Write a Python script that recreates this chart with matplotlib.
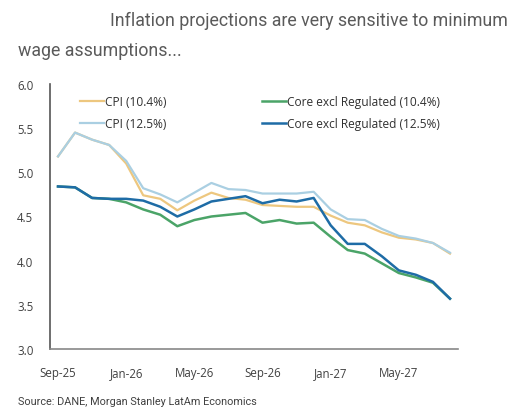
import matplotlib
matplotlib.use("Agg")
import matplotlib.pyplot as plt
import numpy as np

# monthly, Sep-25 .. Aug-27
months = ["Sep-25", "Oct-25", "Nov-25", "Dec-25", "Jan-26", "Feb-26", "Mar-26", "Apr-26",
          "May-26", "Jun-26", "Jul-26", "Aug-26", "Sep-26", "Oct-26", "Nov-26", "Dec-26",
          "Jan-27", "Feb-27", "Mar-27", "Apr-27", "May-27", "Jun-27", "Jul-27", "Aug-27"]
tick_labels = ["Sep-25", "Jan-26", "May-26", "Sep-26", "Jan-27", "May-27"]

cpi_104 = [5.18, 5.45, 5.37, 5.31, 5.10, 4.74, 4.70, 4.57, 4.68, 4.77, 4.71, 4.69,
           4.63, 4.62, 4.61, 4.61, 4.51, 4.43, 4.40, 4.32, 4.26, 4.24, 4.20, 4.08]
cpi_125 = [5.18, 5.45, 5.37, 5.31, 5.13, 4.82, 4.75, 4.66, 4.77, 4.88, 4.81, 4.80,
           4.76, 4.76, 4.76, 4.78, 4.58, 4.47, 4.46, 4.36, 4.28, 4.25, 4.20, 4.09]
core_104 = [4.84, 4.83, 4.71, 4.70, 4.66, 4.58, 4.52, 4.39, 4.46, 4.50, 4.52, 4.54,
            4.43, 4.46, 4.42, 4.43, 4.27, 4.12, 4.08, 3.97, 3.86, 3.81, 3.75, 3.57]
core_125 = [4.84, 4.83, 4.71, 4.70, 4.70, 4.68, 4.61, 4.50, 4.58, 4.67, 4.70, 4.73,
            4.65, 4.69, 4.67, 4.71, 4.40, 4.19, 4.19, 4.05, 3.89, 3.84, 3.76, 3.57]

series = [
    ("CPI (10.4%)", cpi_104, "#EDC77F", 1.6, 1),
    ("CPI (12.5%)", cpi_125, "#AACFE2", 1.6, 2),
    ("Core excl Regulated (10.4%)", core_104, "#4BA468", 1.8, 3),
    ("Core excl Regulated (12.5%)", core_125, "#1E6CA6", 1.8, 4),
]

W, H = 529, 414
fig = plt.figure(figsize=(W / 100, H / 100), dpi=100)
ax = fig.add_axes([50 / W, 1 - 350 / H, 408 / W, 265 / H])

x = np.arange(len(months))
for label, vals, color, lw, z in series:
    ax.plot(x, vals, color=color, lw=lw, label=label, zorder=z, solid_joinstyle="round")

ax.set_ylim(3.0, 6.0)
ax.set_yticks(np.arange(3.0, 6.01, 0.5))
ax.set_yticklabels([f"{v:.1f}" for v in np.arange(3.0, 6.01, 0.5)])
ax.set_xlim(-0.47, len(months) - 0.53)
ax.set_xticks([months.index(m) for m in tick_labels])
ax.set_xticklabels(tick_labels)
ax.tick_params(length=0, labelsize=8.3, labelcolor="#404040", pad=12)
ax.tick_params(axis="y", pad=12)
for lbl in ax.get_xticklabels() + ax.get_yticklabels():
    lbl.set_family("Open Sans")

for s in ["top", "right"]:
    ax.spines[s].set_visible(False)
ax.spines["left"].set_color("#555555")
ax.spines["bottom"].set_color("#888888")
ax.spines["left"].set_linewidth(1.2)
ax.spines["bottom"].set_linewidth(1.2)

leg = ax.legend(ncol=2, loc="upper left", bbox_to_anchor=(0.047, 1.0), frameon=False,
                prop={"family": "Open Sans", "size": 8.6}, handlelength=2.0,
                handletextpad=0.1, columnspacing=8.0, labelspacing=0.8)
for t in leg.get_texts():
    t.set_color("#303030")

fig.text(110 / W, 1 - 21 / H, "Inflation projections are very sensitive to minimum",
         family="Roboto", fontsize=12.8, color="#5a5a5a", va="center")
fig.text(18 / W, 1 - 51 / H, "wage assumptions...",
         family="Roboto", fontsize=12.8, color="#5a5a5a", va="center")
fig.text(18 / W, 1 - 402 / H, "Source: DANE, Morgan Stanley LatAm Economics",
         family="Roboto", fontsize=7.8, color="#404040", va="center")

fig.savefig("out.png", dpi=100)
